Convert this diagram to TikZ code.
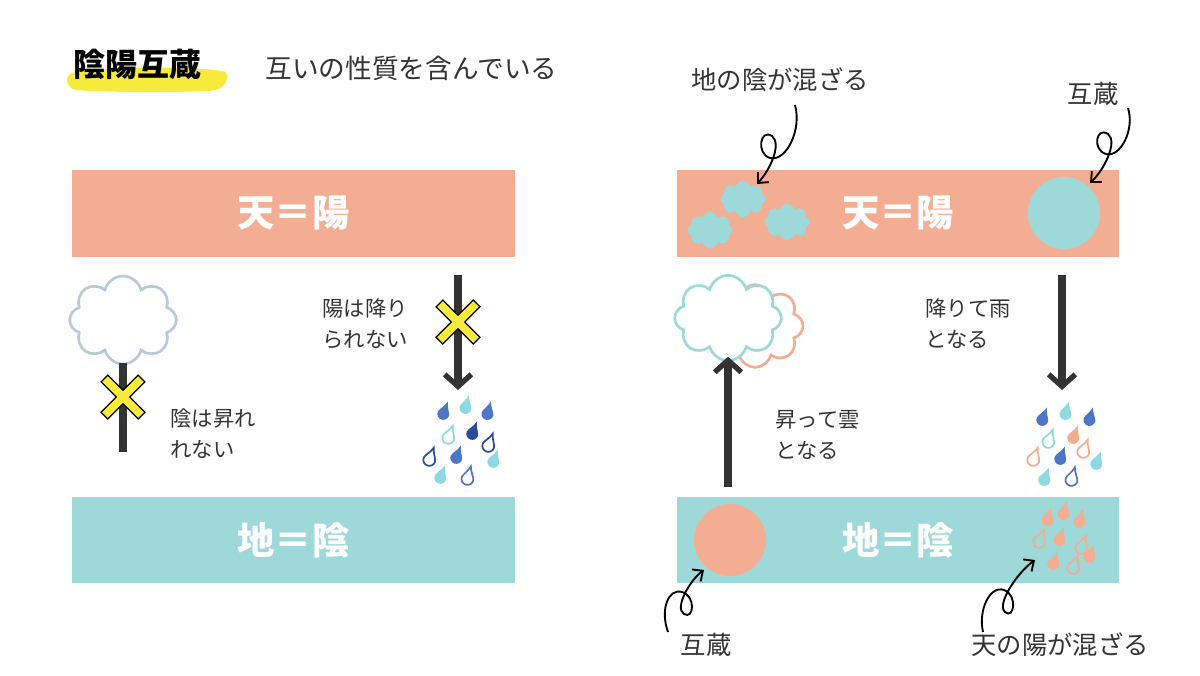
\documentclass[tikz,border=0pt]{standalone}
\usepackage{fontspec}
\setmainfont{Noto Sans CJK JP}
\usetikzlibrary{shapes.symbols,arrows.meta}

\definecolor{sunc}{HTML}{F3AD92}
\definecolor{earthc}{HTML}{9CD9D8}
\definecolor{inkc}{HTML}{333333}
\definecolor{markc}{HTML}{F6EA3C}
\definecolor{greyc}{HTML}{B6CBD5}
\definecolor{darkb}{HTML}{2A4D9B}
\definecolor{midb}{HTML}{4F76C6}
\definecolor{lightb}{HTML}{8FD9E2}

\tikzset{every picture/.style={line width=0.75pt}}
\tikzset{
  band/.style={fill=#1, draw=none, minimum width=332pt, minimum height=65pt, inner sep=0pt,
    text=white, font=\fontsize{28}{30}\selectfont\bfseries},
  note/.style={font=\fontsize{16}{23}\selectfont, text=inkc, align=left, anchor=north west, inner sep=0pt},
  label/.style={font=\fontsize{19}{22}\selectfont, text=inkc, inner sep=0pt},
  flow/.style={draw=inkc, line width=5.5pt, -{Straight Barb[length=9pt,width=20pt,line width=4pt]}},
  stem/.style={draw=inkc, line width=5.5pt},
  cross/.style={draw=black, line width=8pt},
  crossin/.style={draw=markc, line width=6pt},
  curl/.style={draw=black, line width=1.4pt, -{Straight Barb[length=6pt,width=11pt]}},
  puff/.style={cloud, cloud puffs=8, aspect=1.2, inner sep=0pt}
}
% x: cross mark
\newcommand\crossmark[2]{%
  \draw[cross] (#1-19,#2-19) -- (#1+19,#2+19) (#1-19,#2+19) -- (#1+19,#2-19);
  \draw[crossin] (#1-18,#2-18) -- (#1+18,#2+18) (#1-18,#2+18) -- (#1+18,#2-18);}
% drop: x, y, colour, fill or draw, angle
\newcommand\raindrop[5]{%
  \path[#4=#3, line width=1.3pt, rotate around={#5:(#1,#2)}]
    (#1,#2-11) .. controls (#1+1.5,#2-5) and (#1+6,#2-1) .. (#1+6,#2+2)
    arc (0:180:6) .. controls (#1-6,#2-1) and (#1-1.5,#2-5) .. (#1,#2-11) -- cycle;}

\begin{document}
\begin{tikzpicture}[x=0.75pt,y=0.75pt,yscale=-1,xscale=1]
\useasboundingbox (0,0) rectangle (1200,675);

%Title
\fill[markc] (72,73) .. controls (110,66) and (200,66) .. (226,72) .. controls (230,82) and (222,90) .. (210,91) .. controls (160,93) and (100,92) .. (76,90) .. controls (66,88) and (64,76) .. (72,73) -- cycle;
\node[font=\fontsize{24}{26}\selectfont\bfseries, text=black, anchor=west, inner sep=0pt] (title) at (73,64) {陰陽互蔵};
\node[font=\fontsize{20}{22}\selectfont, text=inkc, anchor=west, inner sep=0pt] (subtitle) at (265,68) {互いの性質を含んでいる};

%Bands
\node[band=sunc] (skyL) at (293.5,213.5) {天＝陽};
\node[band=earthc] (earthL) at (293.5,540) {地＝陰};
\node[band=sunc] (skyR) at (898,213.5) {天＝陽};
\node[band=earthc] (earthR) at (898,540) {地＝陰};

%Left: cloud and stem
\node[puff, draw=greyc, line width=2pt, fill=white, minimum width=80pt, minimum height=66pt] (cloudL) at (123,320) {};
\draw[stem] (cloudL.south) ++(0,-2) coordinate (stemtop) -- (123,452);
\crossmark{123}{397}
\node[note] (noUp) at (170,408) {陰は昇れ\\れない};

%Left: blocked rain
\coordinate (fallLtop) at (458,275);
\coordinate (fallLend) at (458,390);
\draw[flow] (fallLtop) -- (fallLend);
\crossmark{458}{322}
\node[note] (noDown) at (322,298) {陽は降り\\られない};
\raindrop{444}{412}{midb}{fill}{20}
\raindrop{466}{406}{lightb}{fill}{15}
\raindrop{488}{412}{midb}{fill}{15}
\raindrop{449}{436}{lightb}{draw}{20}
\raindrop{473}{432}{darkb}{fill}{20}
\raindrop{489}{444}{darkb}{draw}{20}
\raindrop{430}{458}{darkb}{draw}{20}
\raindrop{457}{456}{midb}{fill}{20}
\raindrop{494}{460}{lightb}{fill}{20}
\raindrop{441}{476}{lightb}{fill}{20}
\raindrop{468}{477}{midb}{draw}{15}

%Right: clouds in sky
\node[puff, fill=earthc, minimum width=34pt, minimum height=27pt] (puffA) at (743,199) {};
\node[puff, fill=earthc, minimum width=34pt, minimum height=27pt] (puffB) at (710,230) {};
\node[puff, fill=earthc, minimum width=34pt, minimum height=27pt] (puffC) at (787,222) {};
\fill[earthc] (1064,213) circle (36);
\fill[sunc] (730,540) circle (36);

%Right: rising cloud
\node[puff, draw=sunc, line width=2pt, fill=white, minimum width=72pt, minimum height=62pt] (cloudBack) at (755,326) {};
\node[puff, draw=earthc, line width=2pt, fill=white, minimum width=80pt, minimum height=64pt] (cloudFront) at (728,318) {};
\coordinate (riseR) at (728,487);
\draw[flow] (riseR) -- ([yshift=-9]cloudBack.south -| riseR);
\node[note] (goUp) at (775,410) {昇って雲\\となる};

%Right: falling rain
\coordinate (fallRtop) at (1062,275);
\coordinate (fallRend) at (1062,390);
\draw[flow] (fallRtop) -- (fallRend);
\node[note] (goDown) at (925,298) {降りて雨\\となる};
\raindrop{1043}{418}{midb}{fill}{20}
\raindrop{1066}{412}{lightb}{fill}{15}
\raindrop{1090}{418}{midb}{fill}{15}
\raindrop{1049}{440}{lightb}{draw}{20}
\raindrop{1074}{436}{sunc}{fill}{20}
\raindrop{1034}{458}{sunc}{draw}{20}
\raindrop{1061}{457}{midb}{fill}{20}
\raindrop{1084}{450}{sunc}{draw}{20}
\raindrop{1097}{462}{lightb}{fill}{20}
\raindrop{1045}{478}{lightb}{fill}{20}
\raindrop{1072}{478}{midb}{draw}{15}

%Right: rain inside earth
\raindrop{1048}{518}{sunc}{fill}{15}
\raindrop{1064}{512}{sunc}{fill}{15}
\raindrop{1080}{520}{sunc}{fill}{15}
\raindrop{1040}{540}{sunc}{draw}{20}
\raindrop{1060}{538}{sunc}{fill}{20}
\raindrop{1082}{546}{sunc}{draw}{20}
\raindrop{1054}{562}{sunc}{fill}{20}
\raindrop{1074}{566}{sunc}{draw}{20}
\raindrop{1090}{555}{sunc}{fill}{20}

%Labels and curls
\node[label] (mixYin) at (780,80) {地の陰が混ざる};
\node[label] (mutualT) at (1093,94) {互蔵};
\node[label] (mutualB) at (706,645) {互蔵};
\node[label] (mixYang) at (1060,645) {天の陽が混ざる};
\draw[curl] (795,105) .. controls (802,130) and (786,162) .. (770,158) .. controls (756,154) and (760,128) .. (772,136) .. controls (782,144) and (770,170) .. (757,184);
\draw[curl] (1128,108) .. controls (1135,130) and (1120,158) .. (1106,154) .. controls (1092,150) and (1096,126) .. (1108,134) .. controls (1118,142) and (1104,170) .. (1090,183);
\draw[curl] (668,632) .. controls (660,610) and (668,588) .. (682,592) .. controls (696,596) and (694,620) .. (684,614) .. controls (674,608) and (690,580) .. (704,570);
\draw[curl] (983,632) .. controls (978,610) and (990,585) .. (1004,590) .. controls (1018,595) and (1014,620) .. (1005,612) .. controls (996,604) and (1018,572) .. (1035,560);
\end{tikzpicture}
\end{document}
